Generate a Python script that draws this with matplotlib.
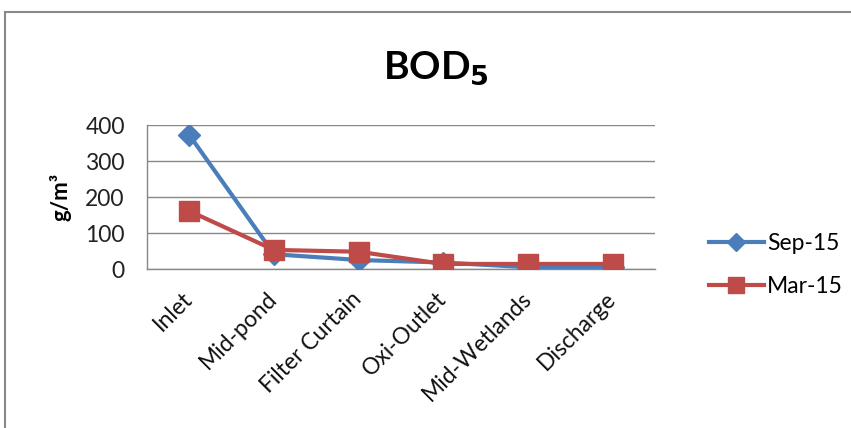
import matplotlib
matplotlib.use("Agg")
import matplotlib.pyplot as plt
from matplotlib.patches import Rectangle

plt.rcParams['font.family'] = ['Lato', 'DejaVu Sans']

sites = ["Inlet", "Mid-pond", "Filter Curtain", "Oxi-Outlet", "Mid-Wetlands", "Discharge"]
sep15 = [372, 41, 25, 18, 5, 5]
mar15 = [161, 53, 48, 14, 14, 14]
yticks = [0, 100, 200, 300, 400]

blue = "#4a7ebb"
red = "#be4b48"

fig = plt.figure(figsize=(8.51, 4.28), dpi=100)
fig.patches.append(Rectangle((5 / 851, -0.1), 1.2, 1 - 12 / 428 + 0.1,
                             transform=fig.transFigure, fill=False,
                             edgecolor="#888888", linewidth=1.5))

ax = fig.add_axes([147 / 851, 1 - 269 / 428, (655 - 147) / 851, (269 - 125) / 428])
x = range(len(sites))
ax.plot(x, sep15, color=blue, linewidth=3, marker="D", markersize=11.5,
        label="Sep-15", zorder=3)
ax.plot(x, mar15, color=red, linewidth=3, marker="s", markersize=14,
        label="Mar-15", zorder=4)

ax.set_xlim(-0.5, len(sites) - 0.5)
ax.set_ylim(0, 400)
ax.set_yticks(yticks)
ax.set_yticklabels([str(v) for v in yticks], fontsize=16.5, color="#222222")
ax.set_xticks(list(x))
ax.set_xticklabels(sites, rotation=45, ha="right", va="center",
                   rotation_mode="anchor", fontsize=16.5, color="#111111")
ax.tick_params(axis="y", length=0, pad=16)
ax.tick_params(axis="x", length=0, pad=19)
ax.grid(axis="y", color="#888888", linewidth=1)
ax.set_axisbelow(True)
for s in ["top", "right"]:
    ax.spines[s].set_visible(False)
for s in ["left", "bottom"]:
    ax.spines[s].set_color("#888888")
    ax.spines[s].set_linewidth(1)

ax.set_ylabel("g/m³", fontsize=16, fontweight="bold", labelpad=10)
fig.text(436 / 851, 1 - 68 / 428, "BOD$_\\mathbf{5}$", fontsize=28, fontweight="bold",
         ha="center", va="center")

fig.legend(loc="center left", bbox_to_anchor=(688 / 851, 1 - 265 / 428),
           frameon=False, fontsize=16.5, handlelength=2.4, labelspacing=1.0,
           handletextpad=0.15, markerscale=0.8)

fig.savefig("out.png", dpi=100)
